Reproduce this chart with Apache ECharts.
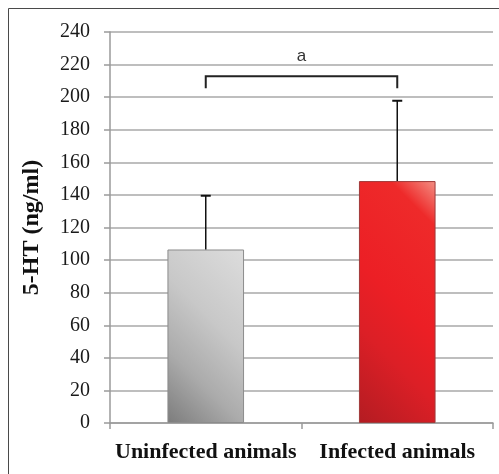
<!DOCTYPE html>
<html>
<head>
<meta charset="utf-8">
<script src="https://cdn.jsdelivr.net/npm/echarts@6/dist/echarts.min.js"></script>
<style>
html,body{margin:0;padding:0;background:#fff;overflow:hidden;}
#main{width:499px;height:474px;}
</style>
</head>
<body>
<div id="main"></div>
<script>
const categories = ['Uninfected animals', 'Infected animals'];
const means = [106.5, 148.5];
const errUpper = [139.5, 197.8];
const bracketFrom = 0, bracketTo = 1;
const bracketTop = 212.8, bracketLegBottom = 205.5;
const signifLabel = 'a';
const yTicks = { min: 0, max: 240, interval: 20 };

const SERIF = 'Liberation Serif';

const chart = echarts.init(document.getElementById('main'), null, { renderer: 'canvas' });

const grayGrad = new echarts.graphic.LinearGradient(0, 1, 1.6, 0.28, [
  { offset: 0, color: '#7c7c7c' },
  { offset: 0.3, color: '#ababab' },
  { offset: 0.6, color: '#c8c8c8' },
  { offset: 1, color: '#dcdcdc' }
]);
const redGrad = new echarts.graphic.LinearGradient(0, 1, 2.1, 0.34, [
  { offset: 0, color: '#b31c22' },
  { offset: 0.3, color: '#dc1f26' },
  { offset: 0.5, color: '#ec1f25' },
  { offset: 0.85, color: '#ee2a2a' },
  { offset: 1, color: '#f3968a' }
]);
const barColors = [grayGrad, redGrad];
const barBorders = ['#8c8c8c', '#a03a3a'];

const option = {
  animation: false,
  backgroundColor: '#ffffff',
  graphic: [{
    type: 'polyline',
    shape: { points: [[8.5, 474], [8.5, 8.5], [499, 8.5]] },
    style: { fill: 'none', stroke: '#4a4a4a', lineWidth: 1 },
    silent: true, z: 0
  }],
  grid: { left: 110, right: 6, top: 32, bottom: 51, containLabel: false },
  xAxis: {
    type: 'category',
    data: categories,
    axisLine: { show: true, lineStyle: { color: '#9a9a9a', width: 1.5 } },
    axisTick: { show: true, length: 6, inside: false, alignWithLabel: false, lineStyle: { color: '#9a9a9a', width: 1.5 } },
    axisLabel: {
      interval: 0,
      color: '#111', fontFamily: SERIF, fontWeight: 'bold', fontSize: 22, margin: 18
    },
    splitLine: { show: false }
  },
  yAxis: {
    type: 'value',
    min: yTicks.min, max: yTicks.max, interval: yTicks.interval,
    name: '5-HT (ng/ml)',
    nameLocation: 'middle',
    nameGap: 66,
    nameTextStyle: { color: '#111', fontFamily: SERIF, fontWeight: 'bold', fontSize: 24 },
    axisLine: { show: true, lineStyle: { color: '#9a9a9a', width: 1.5 } },
    axisTick: { show: true, length: 6, lineStyle: { color: '#9a9a9a', width: 1.5 } },
    axisLabel: { color: '#1a1a1a', fontFamily: SERIF, fontSize: 20, margin: 20 },
    splitLine: { show: true, lineStyle: { color: '#a8a8a8', width: 1.5 } }
  },
  series: [
    {
      type: 'bar',
      barWidth: '40%',
      data: means.map((v, i) => ({
        value: v,
        itemStyle: { color: barColors[i], borderColor: barBorders[i], borderWidth: 1 }
      })),
      z: 2
    },
    {
      type: 'custom',
      data: means.map((v, i) => [i, v, errUpper[i]]),
      z: 3,
      renderItem: function (params, api) {
        const x = api.value(0);
        const p0 = api.coord([x, api.value(1)]);
        const p1 = api.coord([x, api.value(2)]);
        const cap = 5;
        return {
          type: 'group',
          children: [
            { type: 'line', shape: { x1: p0[0], y1: p0[1], x2: p1[0], y2: p1[1] }, style: { stroke: '#111', lineWidth: 1.5 } },
            { type: 'line', shape: { x1: p1[0] - cap, y1: p1[1], x2: p1[0] + cap, y2: p1[1] }, style: { stroke: '#111', lineWidth: 2 } }
          ]
        };
      }
    },
    {
      type: 'custom',
      data: [[bracketFrom, bracketTo, bracketTop, bracketLegBottom]],
      z: 3,
      renderItem: function (params, api) {
        const a = api.coord([api.value(0), api.value(3)]);
        const b = api.coord([api.value(0), api.value(2)]);
        const c = api.coord([api.value(1), api.value(2)]);
        const d = api.coord([api.value(1), api.value(3)]);
        return {
          type: 'group',
          children: [
            { type: 'polyline', shape: { points: [a, b, c, d] }, style: { stroke: '#222', lineWidth: 2, fill: 'none' } },
            { type: 'text', style: { text: signifLabel, x: (b[0] + c[0]) / 2, y: b[1] - 12, align: 'center', verticalAlign: 'bottom', fill: '#333', font: '17px "Liberation Sans"' } }
          ]
        };
      }
    }
  ]
};
chart.setOption(option);
</script>
</body>
</html>
